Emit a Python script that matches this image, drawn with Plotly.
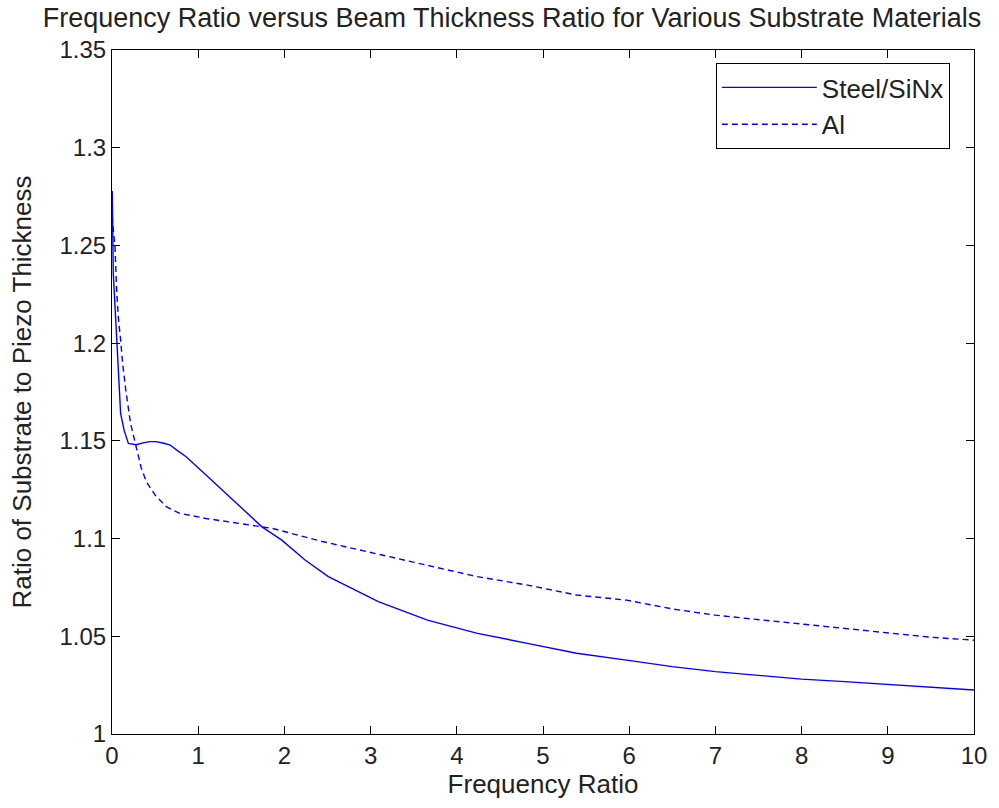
import plotly.graph_objects as go

# Steel/SiNx (solid)
steel_x = [0.0, 0.003, 0.015, 0.03, 0.046, 0.06, 0.073, 0.09, 0.1, 0.14, 0.19, 0.28, 0.36, 0.44,
           0.51, 0.6, 0.67, 0.76, 0.86, 1.05, 1.24, 1.40, 1.59, 1.74, 1.97, 2.24, 2.51, 3.09,
           3.66, 4.24, 4.82, 5.39, 5.97, 6.5, 7.0, 7.5, 8.0, 8.5, 9.0, 9.5, 10.0]
steel_y = [1.2775, 1.2775, 1.2357, 1.222, 1.208, 1.195, 1.181, 1.17, 1.164, 1.1555, 1.1487, 1.148,
           1.149, 1.1496, 1.1496, 1.1488, 1.148, 1.145, 1.1419, 1.1342, 1.1265, 1.1197, 1.112,
           1.106, 1.0992, 1.089, 1.0805, 1.0677, 1.0583, 1.0515, 1.0464, 1.0413, 1.0378, 1.0345,
           1.0319, 1.030, 1.0281, 1.0268, 1.0254, 1.024, 1.0225]

# Al (dashed)
al_x = [0.0, 0.035, 0.054, 0.073, 0.1, 0.123, 0.16, 0.215, 0.28, 0.34, 0.4, 0.5, 0.63, 0.78,
        1.09, 1.47, 1.86, 2.44, 3.09, 3.66, 4.24, 4.82, 5.39, 5.97, 6.5, 7.0, 7.5, 8.0, 8.5,
        9.0, 9.5, 10.0]
al_y = [1.265, 1.249, 1.227, 1.2135, 1.2016, 1.1897, 1.176, 1.159, 1.147, 1.136, 1.129, 1.1223,
        1.1163, 1.113, 1.1103, 1.1078, 1.1052, 1.0985, 1.092, 1.0864, 1.0805, 1.0762, 1.0711,
        1.0685, 1.064, 1.0608, 1.0585, 1.0563, 1.054, 1.0515, 1.0495, 1.048]

x_ticks = [0, 1, 2, 3, 4, 5, 6, 7, 8, 9, 10]
y_ticks = [1, 1.05, 1.1, 1.15, 1.2, 1.25, 1.3, 1.35]
y_tick_text = ["1", "1.05", "1.1", "1.15", "1.2", "1.25", "1.3", "1.35"]

FONT = "Liberation Sans, Arial, sans-serif"
BLUE = "#0000ff"
TXT = "#222"

fig = go.Figure()
fig.add_trace(go.Scatter(x=steel_x, y=steel_y, mode="lines", name="Steel/SiNx",
                         line=dict(color=BLUE, width=1.4)))
fig.add_trace(go.Scatter(x=al_x, y=al_y, mode="lines", name="Al",
                         line=dict(color=BLUE, width=1.4, dash="6px,4px")))

axis_common = dict(showline=True, linecolor="black", linewidth=1, mirror="ticks",
                   ticks="inside", ticklen=8, tickcolor="black", showgrid=False,
                   zeroline=False, tickfont=dict(family=FONT, size=24, color=TXT))

fig.update_layout(
    width=999, height=808,
    margin=dict(l=112, r=19, t=50, b=74),
    paper_bgcolor="white", plot_bgcolor="white",
    font=dict(family=FONT, size=24, color=TXT),
    title=dict(text="Frequency Ratio versus Beam Thickness Ratio for Various Substrate Materials",
               x=0.5125, xref="container", xanchor="center",
               y=1 - 18 / 808, yref="container", yanchor="middle",
               font=dict(family=FONT, size=27, color=TXT)),
    xaxis=dict(range=[0, 10], tickvals=x_ticks,
               title=dict(text="Frequency Ratio", font=dict(family=FONT, size=26), standoff=4),
               **axis_common),
    yaxis=dict(range=[1, 1.35], tickvals=y_ticks, ticktext=y_tick_text,
               title=dict(text="Ratio of Substrate to Piezo Thickness", font=dict(family=FONT, size=26),
                          standoff=20),
               **axis_common),
    legend=dict(x=0.7005, y=0.981, xanchor="left", yanchor="top",
                bordercolor="black", borderwidth=1, bgcolor="white",
                font=dict(family=FONT, size=26, color=TXT), itemwidth=95,
                tracegroupgap=0),
    showlegend=True,
)

fig.write_html("out.html")
